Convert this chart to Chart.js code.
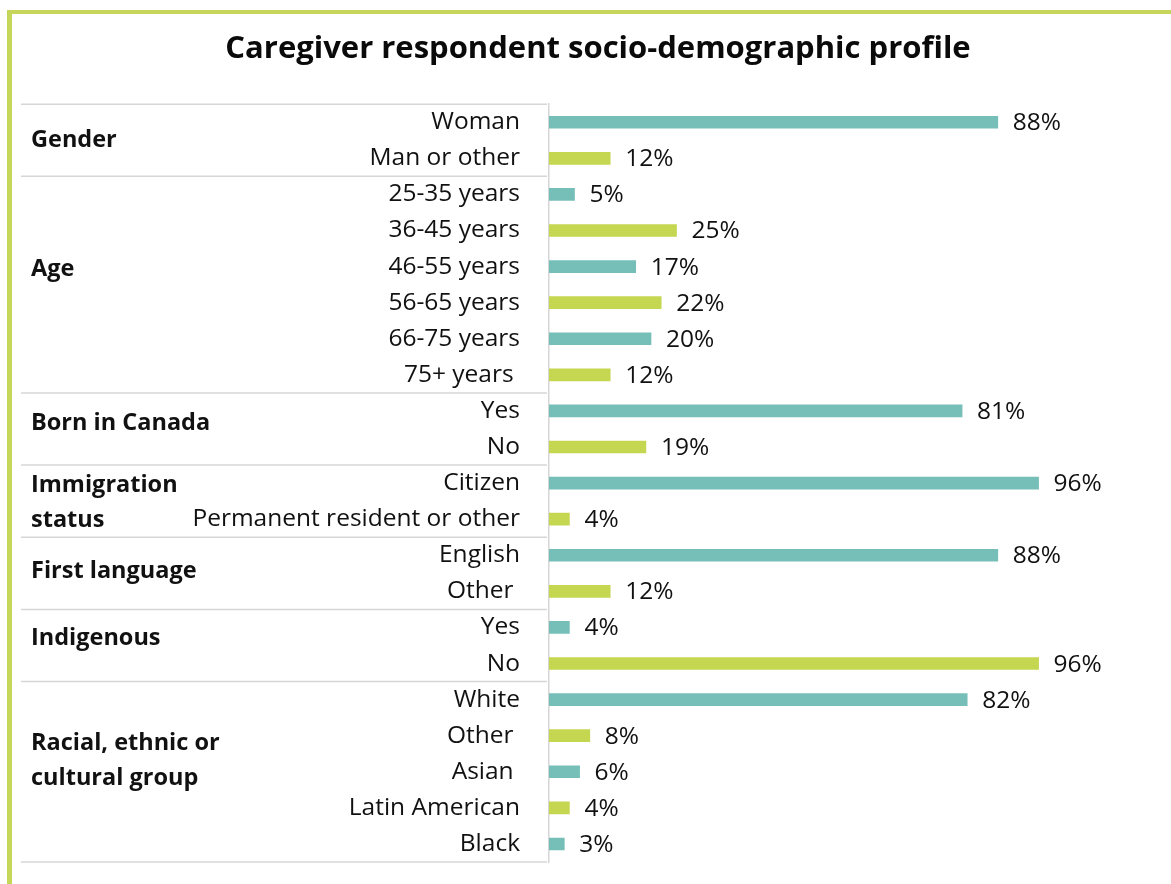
<!DOCTYPE html>
<html>
<head>
<meta charset="utf-8">
<script src="https://cdn.jsdelivr.net/npm/chart.js@4.4.1/dist/chart.umd.min.js"></script>
<style>
  html, body { margin: 0; padding: 0; background: #fff; }
  body { width: 1171px; height: 884px; overflow: hidden; position: relative; }
  #frame {
    position: absolute; left: 7px; top: 10px; right: 0; bottom: 0;
    border-top: 4px solid #c6d65a; border-left: 5px solid #c6d65a;
  }
  #wrap { position: absolute; left: 12px; top: 14px; width: 1159px; height: 870px; }
</style>
</head>
<body>
<div id="frame"></div>
<div id="wrap"><canvas id="chart"></canvas></div>
<script>
// --- data ---
const title = 'Caregiver respondent socio-demographic profile';
const groupNames = [
  ['Gender'],
  ['Age'],
  ['Born in Canada'],
  ['Immigration', 'status'],
  ['First language'],
  ['Indigenous'],
  ['Racial, ethnic or', 'cultural group']
];
const groupSizes = [2, 6, 2, 2, 2, 2, 5];
const categories = [
  'Woman', 'Man or other',
  '25-35 years', '36-45 years', '46-55 years', '56-65 years', '66-75 years', '75+ years ',
  'Yes', 'No',
  'Citizen', 'Permanent resident or other',
  'English', 'Other ',
  'Yes', 'No',
  'White', 'Other ', 'Asian ', 'Latin American', 'Black'
];
const values = [88, 12, 5, 25, 17, 22, 20, 12, 81, 19, 96, 4, 88, 12, 4, 96, 82, 8, 6, 4, 3];

const TEAL = '#76bfb8';
const LIME = '#c5d651';
const TEXT = '#111111';
const FONT = "'Open Sans'";

// where the group label block is centred, in category units
const groupLabelAt = [0.5, 4.08, 8.35, 10.55, 12.45, 14.3, 17.7];

// --- plugins ---
const tablePlugin = {
  id: 'table',
  afterDraw(chart) {
    const ctx = chart.ctx;
    const y = chart.scales.y;
    const area = chart.chartArea;
    const step = y.getPixelForValue(1) - y.getPixelForValue(0);
    const left = 9;

    // group separator lines
    ctx.save();
    ctx.strokeStyle = '#d6d6d6';
    ctx.lineWidth = 1.5;
    let start = 0;
    const bounds = [0];
    groupSizes.forEach(n => { start += n; bounds.push(start); });
    bounds.forEach(b => {
      const py = y.getPixelForValue(b) - step / 2;
      ctx.beginPath();
      ctx.moveTo(left, py);
      ctx.lineTo(area.left - 2, py);
      ctx.stroke();
    });

    // group labels
    ctx.fillStyle = TEXT;
    ctx.font = 'bold 23.5px ' + FONT;
    ctx.textAlign = 'left';
    ctx.textBaseline = 'middle';
    groupNames.forEach((lines, i) => {
      const cy = y.getPixelForValue(groupLabelAt[i]);
      const lh = 35;
      lines.forEach((t, j) => {
        ctx.fillText(t, 19, cy + (j - (lines.length - 1) / 2) * lh);
      });
    });

    // value labels
    ctx.font = '24.5px ' + FONT;
    const meta = chart.getDatasetMeta(0);
    meta.data.forEach((bar, i) => {
      ctx.fillText(values[i] + '%', bar.x + 15, bar.y + 1);
    });
    ctx.restore();
  }
};

// --- chart ---
const ctx = document.getElementById('chart').getContext('2d');
new Chart(ctx, {
  type: 'bar',
  data: {
    labels: categories,
    datasets: [{
      data: values,
      backgroundColor: values.map((v, i) => i % 2 === 0 ? TEAL : LIME),
      barThickness: 12,
      borderWidth: 0
    }]
  },
  options: {
    indexAxis: 'y',
    responsive: true,
    maintainAspectRatio: false,
    animation: false,
    layout: { padding: { left: 23, right: 10, top: 0, bottom: 22 } },
    scales: {
      x: {
        display: false,
        min: 0,
        max: 120
      },
      y: {
        grid: { display: false, drawTicks: false },
        border: { display: true, color: '#d6d6d6', width: 1.5 },
        ticks: {
          color: TEXT,
          font: { family: FONT, size: 24.5 },
          padding: 29,
          autoSkip: false
        },
        afterFit(scale) {
          scale.width = 514;
          scale.paddingTop = 0;
          scale.paddingBottom = 0;
        }
      }
    },
    plugins: {
      legend: { display: false },
      tooltip: { enabled: false },
      title: {
        display: true,
        text: title,
        color: '#0a0a0a',
        font: { family: FONT, size: 31, weight: 'bold' },
        padding: { top: 17, bottom: 36 }
      }
    }
  },
  plugins: [tablePlugin]
});
</script>
</body>
</html>
